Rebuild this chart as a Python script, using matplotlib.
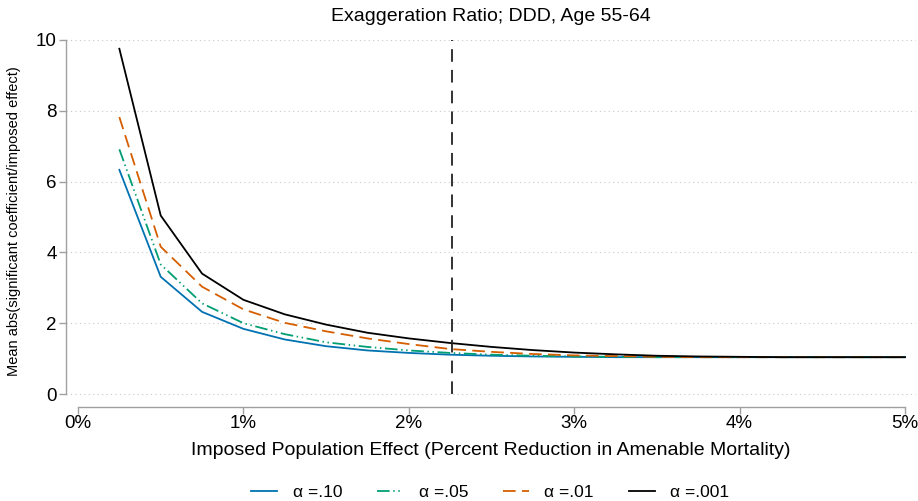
import matplotlib
matplotlib.use("Agg")
import matplotlib.pyplot as plt
from matplotlib.ticker import FuncFormatter

plt.rcParams["font.family"] = ["Liberation Sans", "DejaVu Sans"]

# imposed effect, as a share (0.25% .. 5%)
effect = [0.0025, 0.005, 0.0075, 0.01, 0.0125, 0.015, 0.0175, 0.02, 0.0225, 0.025,
          0.0275, 0.03, 0.0325, 0.035, 0.0375, 0.04, 0.0425, 0.045, 0.0475, 0.05]

ratio_10 = [6.33, 3.31, 2.32, 1.84, 1.54, 1.35, 1.23, 1.16, 1.11, 1.08,
            1.06, 1.05, 1.04, 1.04, 1.04, 1.04, 1.04, 1.04, 1.04, 1.04]
ratio_05 = [6.91, 3.66, 2.56, 2.00, 1.69, 1.46, 1.33, 1.23, 1.16, 1.11,
            1.08, 1.06, 1.05, 1.04, 1.04, 1.04, 1.04, 1.04, 1.04, 1.04]
ratio_01 = [7.82, 4.16, 3.03, 2.39, 2.01, 1.77, 1.57, 1.41, 1.27, 1.19,
            1.13, 1.09, 1.07, 1.05, 1.04, 1.04, 1.04, 1.04, 1.04, 1.04]
ratio_001 = [9.75, 5.04, 3.40, 2.66, 2.25, 1.96, 1.73, 1.57, 1.44, 1.33,
             1.24, 1.17, 1.12, 1.08, 1.06, 1.05, 1.04, 1.04, 1.04, 1.04]

cutoff = 0.0226
labels = ["α =.10", "α =.05", "α =.01", "α =.001"]

fig = plt.figure(figsize=(9.18, 5.01), dpi=100)
W, H = 918, 501
left, right, top, bottom = 66, 916, 36, 407
ax = fig.add_axes([left / W, (H - bottom) / H, (right - left) / W, (bottom - top) / H])

ax.set_xlim(-0.000726, 0.050665)
ax.set_ylim(-0.367, 10.11)

for y in range(0, 11, 2):
    ax.axhline(y, color="#c8c8c8", linewidth=0.8, dashes=(1, 3), zorder=0)

ax.plot(effect, ratio_10, color="#0072B2", linewidth=1.3, label=labels[0])
ax.plot(effect, ratio_05, color="#009E73", linewidth=1.3,
        dashes=(7, 2, 0.8, 2, 0.8, 2), label=labels[1])
ax.plot(effect, ratio_01, color="#D55E00", linewidth=1.3, dashes=(7, 3.5), label=labels[2])
ax.plot(effect, ratio_001, color="black", linewidth=1.3, label=labels[3])

ax.vlines(cutoff, 0, 10, color="#222222", linewidth=1.3, linestyles=(0, (7, 4.5)))

for side in ("top", "right"):
    ax.spines[side].set_visible(False)
ax.spines["left"].set_bounds(0, 10)
ax.spines["bottom"].set_bounds(0, 0.05)
for side in ("left", "bottom"):
    ax.spines[side].set_color("#a0a0a0")
    ax.spines[side].set_linewidth(1.0)

ax.set_yticks(range(0, 11, 2))
ax.set_xticks([0, 0.01, 0.02, 0.03, 0.04, 0.05])
ax.xaxis.set_major_formatter(FuncFormatter(lambda v, _: f"{v * 100:.0f}%"))
ax.tick_params(axis="both", color="#a0a0a0", length=5, width=1.0, labelsize=13.5)
ax.tick_params(axis="x", pad=1)
ax.tick_params(axis="y", pad=1.5)

ax.set_ylabel("Mean abs(significant coefficient/imposed effect)", fontsize=10.5, labelpad=11)
ax.set_xlabel("Imposed Population Effect (Percent Reduction in Amenable Mortality)",
              fontsize=14, labelpad=7)
ax.set_title("Exaggeration Ratio; DDD, Age 55-64", fontsize=14, pad=11)

fig.legend(loc="lower center", bbox_to_anchor=(0.534, -0.03), ncol=4, frameon=False,
           fontsize=12.5, handlelength=1.5, columnspacing=2.0, handletextpad=0.9)

fig.savefig("out.png", dpi=100)
